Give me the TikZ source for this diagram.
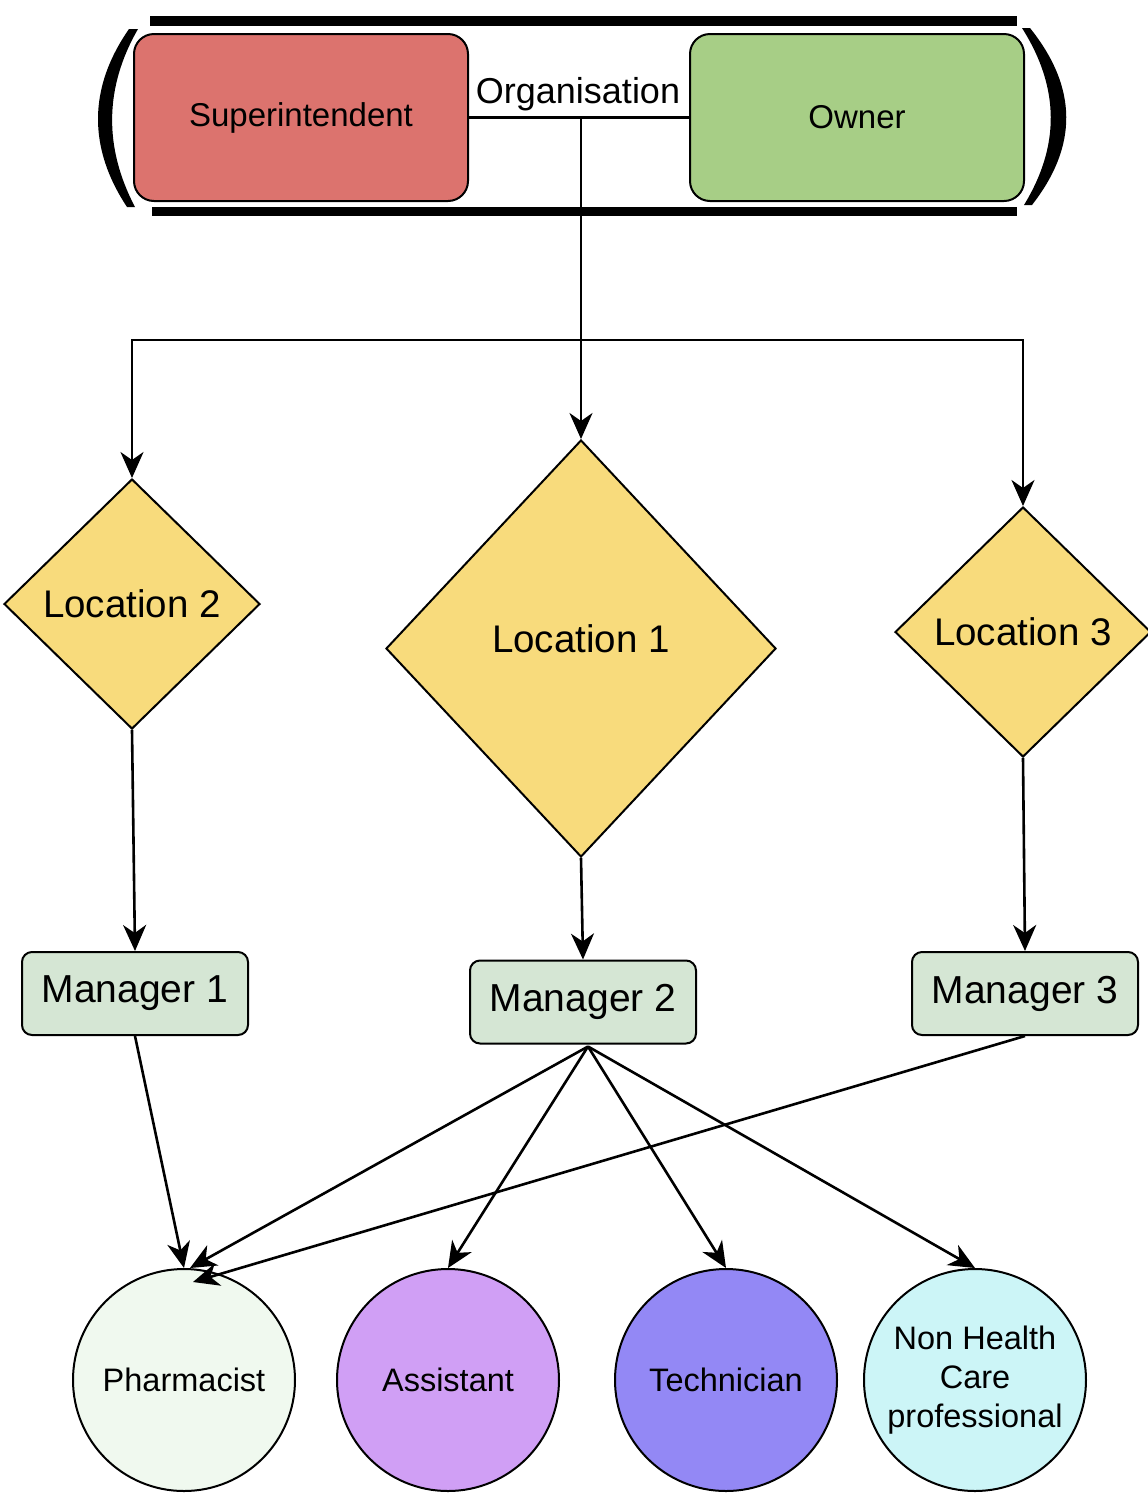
\documentclass[tikz,border=0pt]{standalone}
\usepackage{fontspec}
\setmainfont{Liberation Sans}
\usetikzlibrary{shapes.geometric,arrows.meta,calc}
\definecolor{supfill}{HTML}{DC736E}
\definecolor{ownfill}{HTML}{A7CE86}
\definecolor{locfill}{HTML}{F8DB7C}
\definecolor{mgrfill}{HTML}{D5E6D4}
\definecolor{phfill}{HTML}{F0F9EF}
\definecolor{asfill}{HTML}{D09FF5}
\definecolor{tefill}{HTML}{9388F5}
\definecolor{nhfill}{HTML}{CCF5F7}
\begin{document}
\begin{tikzpicture}[x=1pt,y=-1pt,
  topbox/.style={draw, line width=2pt, rounded corners=20pt, minimum width=334pt, minimum height=167pt, font=\fontsize{33}{39}\selectfont},
  locbox/.style={diamond, draw, line width=2pt, fill=locfill, inner sep=0pt, font=\fontsize{38.5}{46}\selectfont},
  mgrbox/.style={draw, line width=2pt, rounded corners=10pt, minimum width=226pt, minimum height=83pt, fill=mgrfill, font=\fontsize{39}{46}\selectfont},
  staffbox/.style={circle, draw, line width=2pt, minimum size=222pt, inner sep=0pt, align=center, font=\fontsize{32.5}{39}\selectfont},
  arr/.style={-{Stealth[length=26pt,width=23pt,inset=8pt]}, line width=2.6pt},
  conn/.style={line width=2.6pt}]
\useasboundingbox (0,0) rectangle (1148,1500);
\fill[white] (0,0) rectangle (1148,1500);

% frame bars and parentheses
\draw[line width=10pt] (150,21) -- (1017,21);
\draw[line width=9pt] (152,211) -- (1017,211);
\fill (129,29) .. controls (88,88) and (88,148) .. (127,207) -- (135,207) .. controls (104,148) and (104,88) .. (138,29) -- cycle;
\fill (1030,28) .. controls (1078,88) and (1078,146) .. (1032,205) -- (1024,205) .. controls (1060,146) and (1060,88) .. (1022,28) -- cycle;

% top boxes
\node[topbox, fill=supfill] (sup) at (301,117.5) {Superintendent};
\node[topbox, fill=ownfill] (own) at (857,117.5) {Owner};
\draw[conn] (sup.east) -- (own.west);
\node[font=\fontsize{36}{43}\selectfont] (orglbl) at (578,94) {Organisation};
\coordinate (org) at (581,117.5);

% locations
\node[locbox, minimum width=390pt, minimum height=417pt] (loc1) at (581,648.5) {\raisebox{20pt}{Location 1}};
\node[locbox, minimum width=256pt, minimum height=250pt] (loc2) at (132,604) {Location 2};
\node[locbox, minimum width=256pt, minimum height=250pt] (loc3) at (1023,632) {Location 3};

\draw[arr] (org) -- (loc1.north);
\coordinate (hl) at (132,340);
\coordinate (hr) at (1023,340);
\draw[conn, {Stealth[length=26pt,width=23pt,inset=8pt]}-{Stealth[length=26pt,width=23pt,inset=8pt]}] (loc2.north) -- (hl) -- (hr) -- (loc3.north);

% managers
\node[mgrbox] (man1) at (135,993.5) {Manager 1};
\node[mgrbox] (man2) at (583,1002) {Manager 2};
\node[mgrbox] (man3) at (1025,993.5) {Manager 3};

\draw[arr] (loc2.south) -- (man1.north);
\draw[arr] (loc1.south) -- (man2.north);
\draw[arr] (loc3.south) -- (man3.north);

% staff
\node[staffbox, fill=phfill] (pharm) at (184,1380) {Pharmacist};
\node[staffbox, fill=asfill] (assist) at (448,1380) {Assistant};
\node[staffbox, fill=tefill] (tech) at (726,1380) {Technician};
\node[staffbox, fill=nhfill] (nonh) at (975,1380) {Non Health\\Care\\professional};

\coordinate (m2s) at ($(man2.south)+(5,2)$);
\coordinate (ph2) at ($(pharm.north)+(6,0)$);
\coordinate (ph3) at ($(pharm.north)+(9,14)$);
\draw[arr] (man1.south) -- (pharm.north);
\draw[arr] (m2s) -- (ph2);
\draw[arr] (m2s) -- (assist.north);
\draw[arr] (m2s) -- (tech.north);
\draw[arr] (m2s) -- (nonh.north);
\draw[arr] (man3.south) -- (ph3);
\end{tikzpicture}
\end{document}
